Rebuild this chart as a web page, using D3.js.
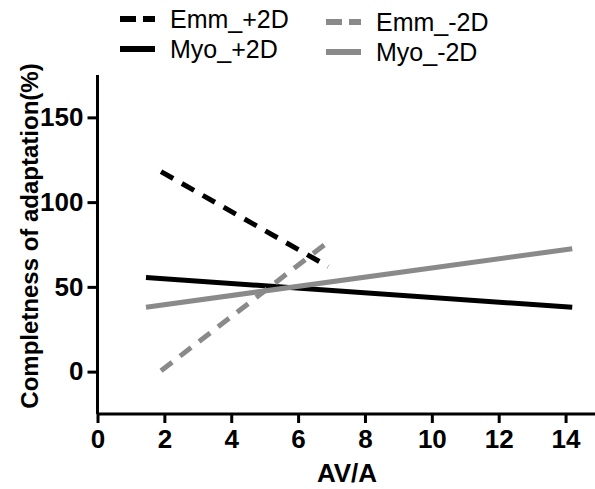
<!DOCTYPE html>
<html>
<head>
<meta charset="utf-8">
<script src="https://cdn.jsdelivr.net/npm/d3@7"></script>
<style>
  html, body { margin: 0; padding: 0; background: #fff; }
  svg { display: block; font-family: "Liberation Sans", Arial, sans-serif; }
</style>
</head>
<body>
<svg id="chart" width="595" height="489"></svg>
<script>
// Regression lines: AV/A (x) vs completeness of adaptation (%)
const seriesNames = ["Emm_+2D", "Myo_+2D", "Emm_-2D", "Myo_-2D"];
const seriesColors = ["#000000", "#000000", "#8a8a8a", "#8a8a8a"];
const seriesDashed = [true, false, true, false];
const emmPlusX = [1.9, 6.9];
const emmPlusY = [118, 62];
const myoPlusX = [1.45, 14.2];
const myoPlusY = [55.5, 38];
const emmMinusX = [1.9, 7.0];
const emmMinusY = [0.5, 78];
const myoMinusX = [1.45, 14.2];
const myoMinusY = [38, 72.5];
const xTicks = [0, 2, 4, 6, 8, 10, 12, 14];
const yTicks = [0, 50, 100, 150];

const seriesX = [emmPlusX, myoPlusX, emmMinusX, myoMinusX];
const seriesY = [emmPlusY, myoPlusY, emmMinusY, myoMinusY];

const svg = d3.select("#chart");

const x = d3.scaleLinear().domain([0, 15]).range([97.5, 599]);
const y = d3.scaleLinear().domain([-25, 175]).range([414, 75]);

// axes
const xAxis = d3.axisBottom(x).tickValues(xTicks).tickSize(9).tickSizeOuter(0).tickPadding(7);
const yAxis = d3.axisLeft(y).tickValues(yTicks).tickSize(10).tickSizeOuter(0).tickPadding(4);

const gx = svg.append("g").attr("transform", `translate(0,${y(-25)})`).call(xAxis);
const gy = svg.append("g").attr("transform", `translate(${x(0)},0)`).call(yAxis);

[gx, gy].forEach(g => {
  g.select(".domain").attr("stroke", "#000").attr("stroke-width", 3);
  g.selectAll(".tick line").attr("stroke", "#000").attr("stroke-width", 3);
  g.selectAll(".tick text")
    .attr("fill", "#000")
    .style("font-size", "26px")
    .style("font-weight", "bold");
});
gx.select(".domain").attr("d", `M${x(0)},0H${x(15)}`);
gy.select(".domain").attr("d", `M0,${y(-25)}V${y(175)}`);

// lines
const line = d3.line().x(d => x(d[0])).y(d => y(d[1]));
seriesNames.forEach((name, i) => {
  const pts = seriesX[i].map((v, j) => [v, seriesY[i][j]]);
  svg.append("path")
    .datum(pts)
    .attr("d", line)
    .attr("fill", "none")
    .attr("stroke", seriesColors[i])
    .attr("stroke-width", 5)
    .attr("stroke-dasharray", seriesDashed[i] ? "14,10" : null);
});

// axis titles
svg.append("text")
  .attr("x", 347)
  .attr("y", 482)
  .attr("text-anchor", "middle")
  .style("font-size", "26px")
  .style("font-weight", "bold")
  .text("AV/A");

svg.append("text")
  .attr("transform", "translate(38,236) rotate(-90)")
  .attr("text-anchor", "middle")
  .style("font-size", "24px")
  .style("font-weight", "bold")
  .text("Completness of adaptation(%)");

// legend: two columns, the grey column sits slightly lower
const legendPos = [[120, 19], [120, 49], [326, 22], [326, 52]];
seriesNames.forEach((name, i) => {
  const [lx, ly] = legendPos[i];
  const g = svg.append("g").attr("transform", `translate(${lx},${ly})`);
  g.append("line")
    .attr("x1", 0).attr("x2", 35)
    .attr("y1", 0).attr("y2", 0)
    .attr("stroke", seriesColors[i])
    .attr("stroke-width", 6)
    .attr("stroke-dasharray", seriesDashed[i] ? "16,7" : null);
  g.append("text")
    .attr("x", 50)
    .attr("y", 9)
    .style("font-size", "25px")
    .attr("fill", "#000")
    .text(name);
});
</script>
</body>
</html>
